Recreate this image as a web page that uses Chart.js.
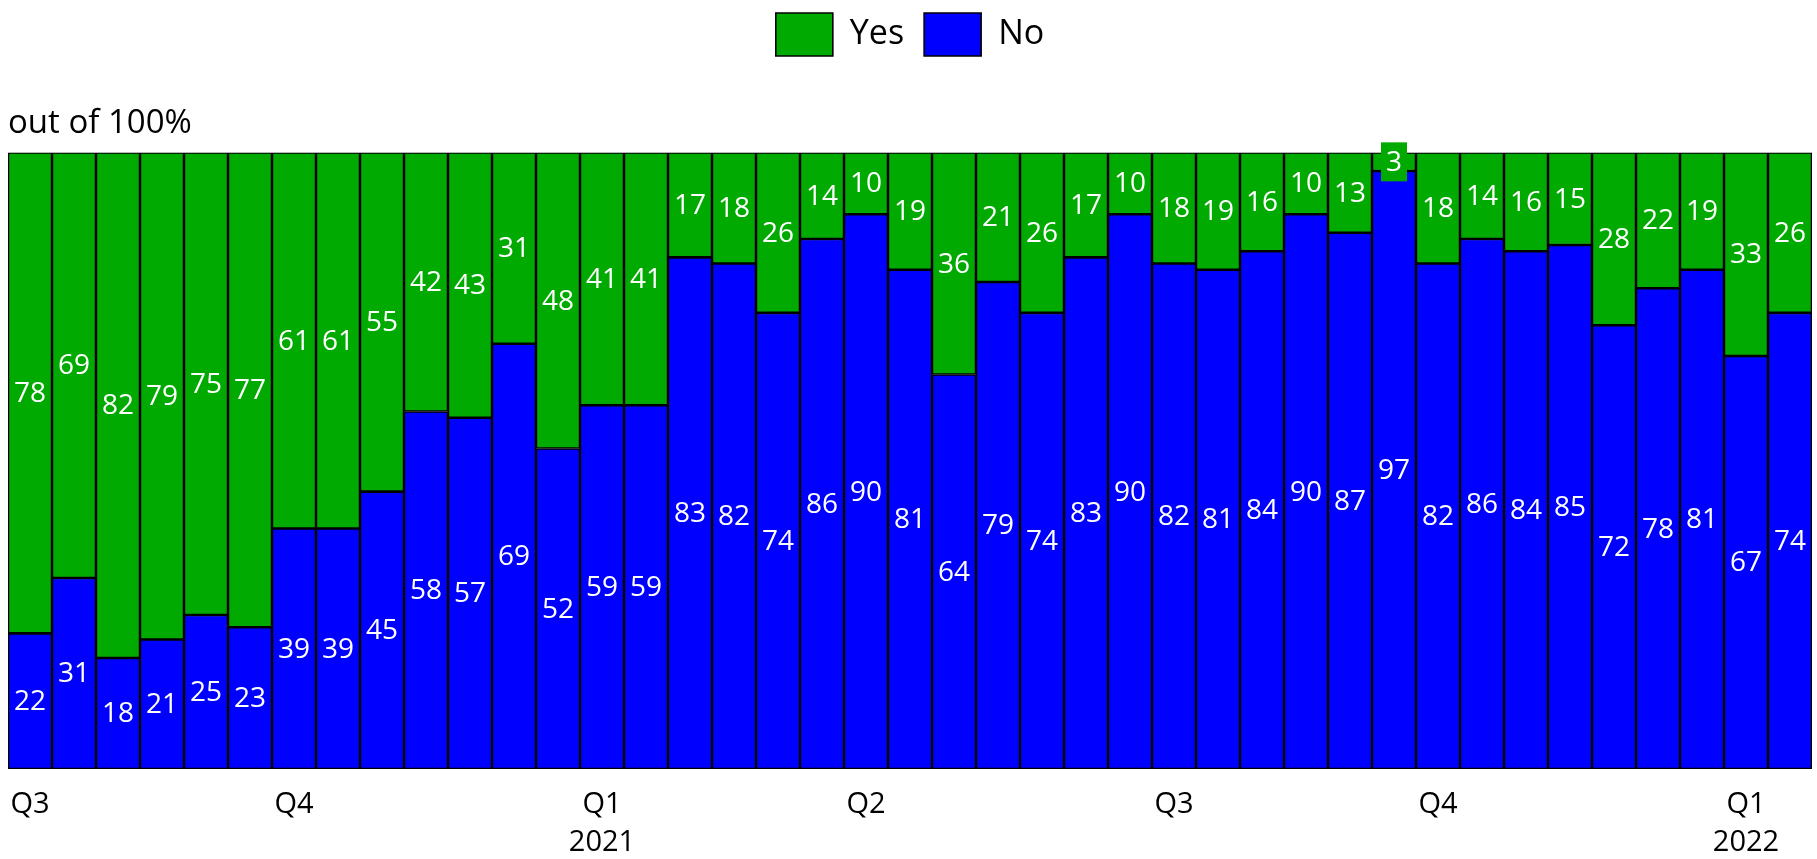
<!DOCTYPE html>
<html>
<head>
<meta charset="utf-8">
<title>Yes / No share</title>
<script src="https://cdn.jsdelivr.net/npm/chart.js@4.4.1/dist/chart.umd.min.js"></script>
<style>
  html, body { margin: 0; padding: 0; background: #fff; }
  #wrap { width: 1817px; height: 859px; }
</style>
</head>
<body>
<div id="wrap"><canvas id="chart" width="1817" height="859"></canvas></div>
<script>
// quarter markers along the bottom, one slot per bar
const periodLabels = [
  "Q3", "", "", "", "", "",
  "Q4", "", "", "", "", "", "",
  ["Q1", "2021"], "", "", "", "", "",
  "Q2", "", "", "", "", "", "",
  "Q3", "", "", "", "", "",
  "Q4", "", "", "", "", "", "",
  ["Q1", "2022"], ""
];

const noValues = [22, 31, 18, 21, 25, 23, 39, 39, 45, 58, 57, 69, 52, 59, 59, 83, 82, 74, 86, 90, 81,
  64, 79, 74, 83, 90, 82, 81, 84, 90, 87, 97, 82, 86, 84, 85, 72, 78, 81, 67, 74];
const yesValues = [78, 69, 82, 79, 75, 77, 61, 61, 55, 42, 43, 31, 48, 41, 41, 17, 18, 26, 14, 10, 19,
  36, 21, 26, 17, 10, 18, 19, 16, 10, 13, 3, 18, 14, 16, 15, 28, 22, 19, 33, 26];

const GREEN = "#00aa00";
const BLUE = "#0000ff";
const FONT = "'Open Sans', 'Noto Sans', sans-serif";

// white value in the middle of each segment; short segments get a filled tag
const segmentLabels = {
  id: "segmentLabels",
  afterDatasetsDraw(chart) {
    const ctx = chart.ctx;
    ctx.save();
    ctx.font = "28px " + FONT;
    ctx.textAlign = "center";
    ctx.textBaseline = "middle";
    chart.data.datasets.forEach((ds, di) => {
      const meta = chart.getDatasetMeta(di);
      meta.data.forEach((bar, i) => {
        const p = bar.getProps(["x", "y", "base"], true);
        const cy = (p.y + p.base) / 2;
        const txt = String(ds.data[i]);
        const h = Math.abs(p.base - p.y);
        if (h < 40) {
          const w = ctx.measureText(txt).width + 10;
          ctx.fillStyle = ds.backgroundColor;
          ctx.fillRect(p.x - w / 2, cy - 19.5, w, 39);
        }
        ctx.fillStyle = "#ffffff";
        ctx.fillText(txt, p.x, cy + 1);
      });
    });
    ctx.restore();
  }
};

new Chart(document.getElementById("chart"), {
  type: "bar",
  data: {
    labels: periodLabels,
    datasets: [
      {
        label: "No",
        data: noValues,
        backgroundColor: BLUE,
        borderColor: "#000",
        borderWidth: 1.6,
        borderSkipped: false,
        barPercentage: 1,
        categoryPercentage: 1
      },
      {
        label: "Yes",
        data: yesValues,
        backgroundColor: GREEN,
        borderColor: "#000",
        borderWidth: 1.6,
        borderSkipped: false,
        barPercentage: 1,
        categoryPercentage: 1
      }
    ]
  },
  options: {
    responsive: false,
    animation: false,
    layout: { padding: { left: 8, right: 5, top: -7, bottom: 0 } },
    plugins: {
      legend: {
        position: "top",
        reverse: true,
        labels: {
          boxWidth: 57,
          boxHeight: 43,
          padding: 20,
          color: "#000",
          font: { family: FONT, size: 34 }
        }
      },
      title: {
        display: true,
        text: "out of 100%",
        align: "start",
        position: "top",
        weight: 500,
        color: "#000",
        font: { family: FONT, size: 33, weight: "normal" },
        padding: { top: 38, bottom: 9 }
      },
      tooltip: { enabled: false }
    },
    scales: {
      x: {
        stacked: true,
        grid: { display: false, drawTicks: false },
        border: { display: false },
        afterFit(scale) {
          // bars run edge to edge; no extra room for the first/last tick text
          scale.height = 90;
          scale.paddingLeft = 0;
          scale.paddingRight = 0;
        },
        ticks: {
          autoSkip: false,
          maxRotation: 0,
          padding: 17,
          color: "#000",
          font: { family: FONT, size: 29, lineHeight: 1.3 }
        }
      },
      y: {
        stacked: true,
        display: false,
        min: 0,
        max: 100
      }
    }
  },
  plugins: [segmentLabels]
});
</script>
</body>
</html>
